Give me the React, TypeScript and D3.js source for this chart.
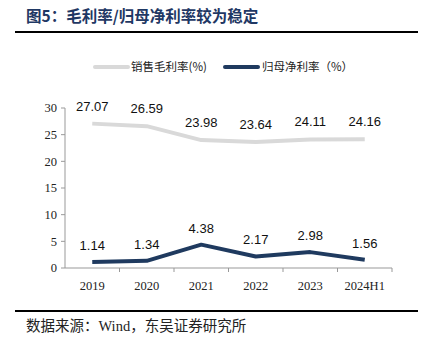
import React from "react";
import * as d3 from "d3";

const categories = ["2019", "2020", "2021", "2022", "2023", "2024H1"];
const grossMargin = [27.07, 26.59, 23.98, 23.64, 24.11, 24.16];
const netMargin = [1.14, 1.34, 4.38, 2.17, 2.98, 1.56];
const yTicks = [0, 5, 10, 15, 20, 25, 30];
const seriesNames = ["销售毛利率(%)", "归母净利率（%）"];

const W = 423;
const H = 355;

export default function App() {
  const x = d3.scaleBand<string>().domain(categories).range([65, 392]);
  const y = d3.scaleLinear().domain([0, 30]).range([268, 108]);
  const cx = (c: string) => (x(c) as number) + x.bandwidth() / 2;
  const line = d3
    .line<number>()
    .x((_, i) => cx(categories[i]))
    .y((d) => y(d));
  const serif = "'Times New Roman', 'Liberation Serif', 'Noto Sans CJK SC', serif";
  const sans = "Arial, 'Liberation Sans', sans-serif";
  const boundaries = categories.map((c) => (x(c) as number) + x.bandwidth());
  return (
    <svg
      width={W}
      height={H}
      style={{ position: "absolute", left: 0, top: 0, background: "#fff" }}
    >
      <text
        x={26}
        y={22}
        fontSize={15.5}
        fontWeight="bold"
        fill="#1f3864"
        fontFamily="'Noto Sans CJK SC', sans-serif"
      >
        图5：毛利率/归母净利率较为稳定
      </text>
      <line x1={15} x2={418} y1={32} y2={32} stroke="#000" strokeWidth={2} />

      {/* legend */}
      <line x1={95} x2={128} y1={67} y2={67} stroke="#d9d9d9" strokeWidth={4} strokeLinecap="round" />
      <text x={131} y={71} fontSize={11.5} fill="#222" fontFamily="'Noto Sans CJK SC', sans-serif">
        {seriesNames[0]}
      </text>
      <line x1={225} x2={258} y1={67} y2={67} stroke="#1f3a5f" strokeWidth={4} strokeLinecap="round" />
      <text x={262} y={71} fontSize={11.5} fill="#222" fontFamily="'Noto Sans CJK SC', sans-serif">
        {seriesNames[1]}
      </text>

      {/* y axis */}
      <line x1={65} x2={65} y1={108} y2={268} stroke="#999" strokeWidth={1} />
      {yTicks.map((t) => (
        <g key={t}>
          <line x1={61} x2={65} y1={y(t)} y2={y(t)} stroke="#999" />
          <text
            x={57}
            y={y(t)}
            dy="0.35em"
            textAnchor="end"
            fontSize={12.5}
            fill="#222"
            fontFamily={serif}
          >
            {t}
          </text>
        </g>
      ))}

      {/* x axis */}
      <line x1={65} x2={392} y1={268} y2={268} stroke="#999" strokeWidth={1} />
      {boundaries.map((b, i) => (
        <line key={i} x1={b} x2={b} y1={268} y2={272} stroke="#999" />
      ))}
      {categories.map((c) => (
        <text
          key={c}
          x={cx(c)}
          y={290}
          textAnchor="middle"
          fontSize={12.5}
          fill="#222"
          fontFamily={serif}
        >
          {c}
        </text>
      ))}

      {/* lines */}
      <path d={line(grossMargin) || ""} fill="none" stroke="#d9d9d9" strokeWidth={4} strokeLinejoin="round" />
      <path d={line(netMargin) || ""} fill="none" stroke="#1f3a5f" strokeWidth={4} strokeLinejoin="round" />

      {grossMargin.map((v, i) => (
        <text
          key={"g" + i}
          x={cx(categories[i])}
          y={y(v) - 13}
          textAnchor="middle"
          fontSize={13}
          fill="#111"
          fontFamily={sans}
        >
          {v.toFixed(2)}
        </text>
      ))}
      {netMargin.map((v, i) => (
        <text
          key={"n" + i}
          x={cx(categories[i])}
          y={y(v) - 12}
          textAnchor="middle"
          fontSize={13}
          fill="#111"
          fontFamily={sans}
        >
          {v.toFixed(2)}
        </text>
      ))}

      <line x1={15} x2={418} y1={311} y2={311} stroke="#000" strokeWidth={2} />
      <text x={26} y={331} fontSize={14.5} fill="#222" fontFamily={serif}>
        数据来源：Wind，东吴证券研究所
      </text>
    </svg>
  );
}
